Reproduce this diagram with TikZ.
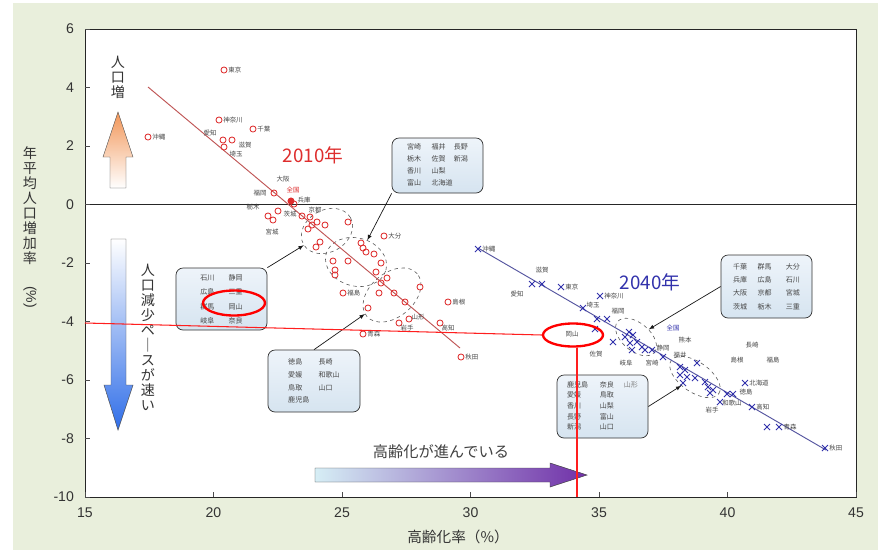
\documentclass[tikz,border=0pt]{standalone}
\usepackage{fontspec}
\setmainfont{Liberation Sans}
\newfontfamily\jp{Noto Sans CJK JP}
\usetikzlibrary{shapes.geometric}

\definecolor{panelgreen}{RGB}{233,239,220}
\definecolor{ptred}{RGB}{222,45,45}
\definecolor{fitred}{RGB}{192,85,85}
\definecolor{ptblue}{RGB}{50,50,172}
\definecolor{fitblue}{RGB}{85,85,160}
\definecolor{boxtop}{RGB}{238,244,250}
\definecolor{boxbot}{RGB}{214,228,240}
\definecolor{labgray}{RGB}{70,70,70}
\definecolor{upor}{RGB}{242,150,88}
\definecolor{downbl}{RGB}{48,110,232}
\definecolor{agecyan}{RGB}{214,238,245}
\definecolor{agepur}{RGB}{112,48,168}
\definecolor{guidered}{RGB}{255,30,30}

\begin{document}
\begin{tikzpicture}[x=0.03cm, y=-0.03cm,
  lab/.style={font=\jp\fontsize{5.5}{6}\selectfont, text=labgray, inner sep=0.5pt},
  r10/.style={draw=ptred, line width=0.7pt},
  x40/.style={draw=ptblue, line width=0.7pt},
  grp/.style={ellipse, draw=gray!70!black, dashed, line width=0.5pt, inner sep=0pt},
  memo/.style={rounded corners=6pt, draw=gray!40!black, line width=0.6pt, top color=boxtop, bottom color=boxbot, text=labgray, inner sep=0pt},
  oka/.style={ellipse, draw=red, line width=2pt, inner sep=0pt},
  callout/.style={-latex, draw=gray!20!black, line width=0.6pt},
  guide/.style={draw=guidered, line width=0.9pt},
  vtext/.style={font=\jp\fontsize{12}{12.8}\selectfont, align=center, text=black!80}
]
\useasboundingbox (0,0) rectangle (885,550);

% panel and plot area
\fill[panelgreen] (13,3) rectangle (878,550);
\fill[white] (85,29) rectangle (856,497);
\draw[line width=0.7pt, black!85] (85,29) rectangle (856,497);
\draw[line width=0.6pt, black!85] (85,204.5) -- (856,204.5);

% ticks
\foreach \v [count=\i] in {6,4,...,-10} {
  \draw[black!70] (85,{204.5-29.25*\v}) -- (90,{204.5-29.25*\v});
  \node[anchor=east, font=\fontsize{12}{12}\selectfont, text=black!80] (yt\i) at (78,{204.5-29.25*\v}) {\v};
}
\foreach \v [count=\i] in {15,20,...,45} {
  \draw[black!70] ({85+25.7*(\v-15)},497) -- ++(0,-5);
  \node[font=\fontsize{12}{12}\selectfont, text=black!80] (xt\i) at ({85+25.7*(\v-15)},513) {\v};
}

% groups
\node[grp, minimum width=1.62cm, minimum height=1.26cm, rotate=30] (g1) at (327,231) {};
\node[grp, minimum width=1.86cm, minimum height=1.44cm, rotate=-15] (g2) at (356,262) {};
\node[grp, minimum width=1.98cm, minimum height=1.32cm, rotate=40] (g3) at (392,295) {};
\node[grp, minimum width=1.44cm, minimum height=0.84cm, rotate=-40] (g4) at (636,337) {};
\node[grp, minimum width=1.74cm, minimum height=0.9cm, rotate=-35] (g5) at (695,377) {};

% fitted lines
\draw[fitred, line width=0.8pt] (148,87) -- (460,348);
\draw[fitblue, line width=0.8pt] (478,248) -- (826,450);

% 2010
\foreach \px/\py/\pname [count=\i] in {148/137/沖縄, 224/70/東京, 219/120/神奈川, 253/129/千葉, 384/236/大分, 343/293/福島, 448/302/島根, 363/334/青森, 461/357/秋田}
  {\draw[r10] (\px,\py) circle (2.6pt);
   \node[lab, right=3pt] (p10n\i) at (\px,\py) {\pname};}
\foreach \px/\py in {223/140, 232/140, 224/147, 274/193, 294/204, 268/216, 273/220, 278/211, 302/216, 310/217, 312/225, 317/222, 325/225, 308/229, 348/222, 320/242, 316/247, 361/243, 363/248, 366/252, 374/254, 381/263, 348/261, 333/261, 335/270, 335/275, 376/272, 387/278, 381/283, 379/293, 394/293, 405/302, 420/287, 368/308, 409/319, 399/323, 440/323}
  \draw[r10] (\px,\py) circle (2.6pt);
\foreach \px/\py/\pname [count=\i] in {210/133/愛知, 245/145/滋賀, 236/154/埼玉, 283/179/大阪, 260/193/福岡, 304/200/兵庫, 253/207/栃木, 290/214/茨城, 315/210/京都, 272/232/宮城, 418/317/山形, 407/328/岩手, 448/328/高知}
  \node[lab] (q10n\i) at (\px,\py) {\pname};
\fill[ptred] (291,201) circle (3pt);
\node[lab, text=ptred] (all10) at (293,190) {全国};

% 2040
\foreach \px/\py/\pname [count=\i] in {478/249/沖縄, 561/287/東京, 600/296/神奈川, 745/383/北海道, 752/407/高知, 825/448/秋田}
  {\draw[x40] (\px,\py) ++(-3,-3) -- ++(6,6) ++(-6,0) -- ++(6,-6);
   \node[lab, right=3pt] (p40n\i) at (\px,\py) {\pname};}
\foreach \px/\py in {532/284, 542/284, 583/308, 597/319, 607/319, 595/329, 613/342, 629/332, 633/335, 625/337, 637/342, 630/343, 642/347, 645/350, 632/350, 652/350, 663/357, 680/367, 685/370, 697/363, 680/375, 687/377, 695/378, 683/383, 705/382, 708/387, 710/393, 713/390, 727/394, 733/394, 720/402, 767/427, 779/427}
  \draw[x40] (\px,\py) ++(-3,-3) -- ++(6,6) ++(-6,0) -- ++(6,-6);
\foreach \px/\py/\pname [count=\i] in {542/270/滋賀, 517/294/愛知, 593/305/埼玉, 618/311/福岡, 572/334/岡山, 596/354/佐賀, 626/363/岐阜, 652/363/宮崎, 685/340/熊本, 663/348/静岡, 680/355/福井, 752/345/長崎, 737/360/島根, 773/360/福島, 746/392/徳島, 732/403/和歌山, 712/410/岩手, 790/427/青森}
  \node[lab] (q40n\i) at (\px,\py) {\pname};
\node[lab, text=ptblue] (all40) at (673,328) {全国};

% years
\node[font=\jp\fontsize{16}{16}\selectfont, text=ptred] (yr10) at (313,155) {2010年};
\node[font=\jp\fontsize{16}{16}\selectfont, text=ptblue] (yr40) at (650,282) {2040年};

% boxes
\node[memo, minimum width=2.73cm, minimum height=1.65cm, font=\jp\fontsize{6}{10.2}\selectfont] (boxA) at (437.5,165.5)
  {\begin{tabular}{@{}l@{\hspace{9pt}}l@{\hspace{1pt}}l@{}}宮崎 & 福井 & 長野\\ 栃木 & 佐賀 & 新潟\\ 香川 & 山梨 & \\ 富山 & 北海道 & \end{tabular}};
\node[memo, minimum width=2.73cm, minimum height=1.86cm, font=\jp\fontsize{6}{12.2}\selectfont] (boxB) at (221.5,299)
  {\begin{tabular}{@{}l@{\hspace{12pt}}l@{}}石川 & 静岡\\ 広島 & 三重\\ 群馬 & 岡山\\ 岐阜 & 奈良\end{tabular}};
\node[memo, minimum width=2.76cm, minimum height=1.86cm, font=\jp\fontsize{6}{11}\selectfont] (boxC) at (314,381)
  {\begin{tabular}{@{}l@{\hspace{8pt}}l@{}}徳島 & 長崎\\ 愛媛 & 和歌山\\ 鳥取 & 山口\\ 鹿児島 & \end{tabular}};
\node[memo, minimum width=2.73cm, minimum height=1.89cm, font=\jp\fontsize{6}{11.4}\selectfont] (boxD) at (766.5,286.5)
  {\begin{tabular}{@{}l@{\hspace{9pt}}l@{\hspace{12pt}}l@{}}千葉 & 群馬 & 大分\\ 兵庫 & 広島 & 石川\\ 大阪 & 京都 & 宮城\\ 茨城 & 栃木 & 三重\end{tabular}};
\node[memo, minimum width=2.73cm, minimum height=1.89cm, font=\jp\fontsize{6}{9.1}\selectfont] (boxE) at (602.5,406.5)
  {\begin{tabular}{@{}l@{\hspace{10pt}}l@{\hspace{8.5pt}}l@{}}鹿児島 & 奈良 & \textcolor{gray}{山形}\\ 愛媛 & 鳥取 & \\ 香川 & 山梨 & \\ 長野 & 富山 & \\ 新潟 & 山口 & \end{tabular}};

\draw[callout] (boxA.south west) -- (g2);
\draw[callout] (boxB.north east) -- (g1);
\draw[callout] (boxC.north) -- (g3);
\draw[callout] (boxD.west) -- (g4);
\draw[callout] (boxE.east) -- (g5);

% big arrows
\shade[top color=upor, bottom color=white, draw=gray!60!black, line width=0.4pt]
  (110,188) -- (110,157) -- (103,157) -- (118,112) -- (133,157) -- (126,157) -- (126,188) -- cycle;
\shade[top color=white, bottom color=downbl, draw=gray!60!black, line width=0.4pt]
  (111,239) -- (126,239) -- (126,385) -- (133,385) -- (118,430) -- (104,385) -- (111,385) -- cycle;
\shade[left color=agecyan, right color=agepur, draw=gray!50!black, line width=0.4pt]
  (315,468) -- (550,468) -- (550,463) -- (587,475) -- (550,487) -- (550,482) -- (315,482) -- cycle;

% Okayama
\node[oka, minimum width=1.86cm, minimum height=0.75cm] (o10) at (234,303) {};
\node[oka, minimum width=1.8cm, minimum height=0.69cm] (o40) at (573,335) {};
\coordinate (yhit) at (85,323);
\coordinate (xhit) at (577,497);
\draw[guide] (yhit) -- (o40.west);
\draw[guide] (xhit |- o40.south) -- (xhit);

% texts
\node[vtext] (up) at (118,77) {人\\口\\増};
\node[vtext] (down) at (148,337.5) {人\\口\\減\\少\\ペ\\｜\\ス\\が\\速\\い};
\node[vtext] (ytitle) at (30,205.5) {年\\平\\均\\人\\口\\増\\加\\率};
\node[font=\fontsize{12}{12}\selectfont, text=black!80, rotate=-90] (yunit) at (30,297) {(\%)};
\node[font=\jp\fontsize{13}{13}\selectfont, text=black!75] (aging) at (441,452) {高齢化が進んでいる};
\node[font=\jp\fontsize{12.5}{12.5}\selectfont, text=black!80] (xtitle) at (458,537) {高齢化率（\%）};
\end{tikzpicture}
\end{document}
